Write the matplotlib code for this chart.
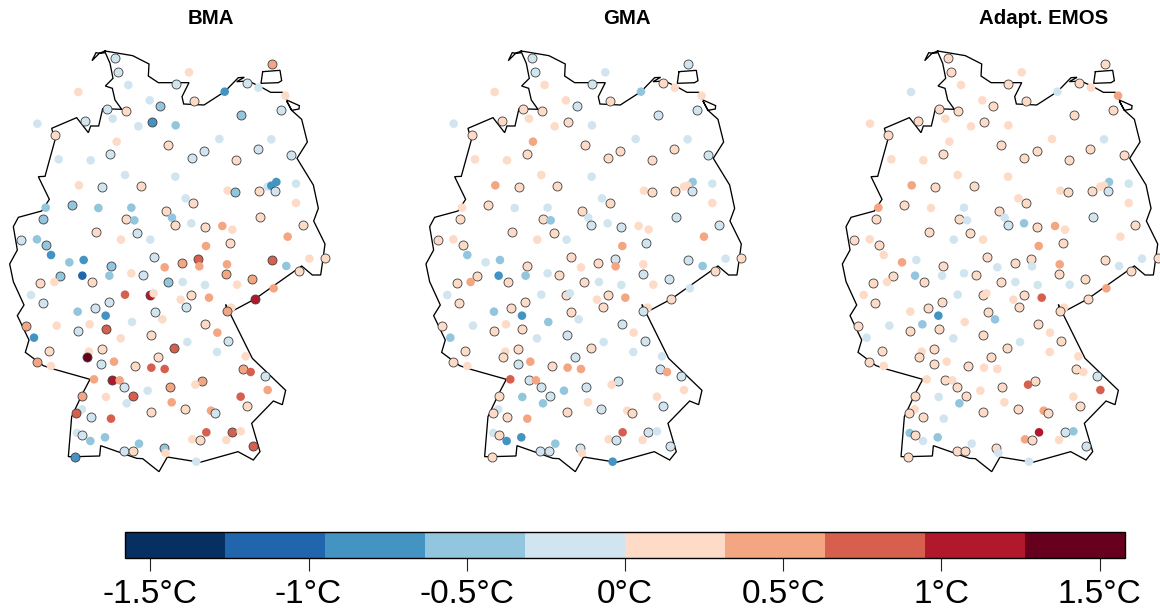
import matplotlib
matplotlib.use('Agg')
import matplotlib.pyplot as plt
from matplotlib.colors import ListedColormap, BoundaryNorm
from matplotlib.cm import ScalarMappable
import numpy as np

plt.rcParams['font.family'] = ['Liberation Sans', 'DejaVu Sans']

# Value of the class each station falls in (deg C)
B4, B3, B2, B1 = -1.11, -0.79, -0.47, -0.16
R1, R2, R3, R4, R5 = 0.16, 0.47, 0.79, 1.11, 1.42

# Station positions, in map units
station_x = [
    346, 355, 816, 567, 385, 235, 527, 740, 775, 674,
    856, 449, 481, 581, 320, 377, 842, 724, 338, 256,
    455, 112, 415, 527, 166, 658, 814, 350, 505, 612,
    773, 331, 575, 708, 874, 176, 272, 375, 526, 237,
    307, 423, 829, 803, 814, 826, 888, 683, 706, 777,
    888, 557, 580, 137, 215, 295, 394, 498, 516, 780,
    130, 379, 403, 525, 574, 614, 667, 697, 908, 288,
    412, 863, 64, 111, 139, 363, 451, 618, 690,
    153, 208, 251, 332, 463, 546, 595, 494, 598, 681,
    816, 859, 928, 975, 181, 247, 328, 394, 429, 679,
    757, 896, 121, 163, 275, 504, 548, 615, 711, 93,
    375, 450, 461, 574, 627, 542, 128, 327, 765, 821,
    559, 694, 681, 285, 233, 465, 317, 487, 77, 170,
    269, 396, 616, 233, 318, 652, 102, 362, 452, 685,
    562, 523, 147, 267, 305, 651, 260, 475, 737, 342,
    110, 304, 153, 406, 454, 494, 730, 752, 794, 282,
    337, 359, 606, 586, 373, 509, 803, 443, 400, 247,
    318, 722, 380, 515, 741, 246, 555, 452, 229, 633,
    646, 272, 333, 231, 247, 619, 696, 722, 315, 271,
    577, 599, 679, 417, 760, 491, 372, 398, 497, 226,
    589]
station_y = [
    53, 97, 72, 97, 135, 156, 131, 128, 143, 155,
    167, 181, 198, 184, 206, 213, 211, 225, 236, 244,
    246, 251, 259, 256, 286, 297, 298, 305, 315, 333,
    326, 342, 355, 361, 345, 358, 361, 405, 410, 436,
    442, 439, 426, 440, 437, 453, 431, 452, 456, 452,
    489, 475, 489, 503, 494, 504, 503, 514, 533, 530,
    537, 538, 541, 555, 550, 562, 558, 569, 555, 577,
    579, 590, 600, 598, 615, 599, 599, 618, 610,
    645, 667, 660, 677, 652, 669, 657, 682, 679, 673,
    661, 678, 656, 655, 708, 707, 707, 700, 706, 702,
    716, 692, 730, 726, 726, 727, 726, 735, 734, 765,
    764, 766, 760, 765, 773, 779, 788, 787, 777, 745,
    801, 803, 814, 805, 815, 815, 827, 838, 859, 857,
    853, 846, 853, 873, 868, 878, 893, 895, 886, 903,
    906, 925, 934, 935, 928, 936, 952, 950, 949, 965,
    967, 973, 978, 979, 983, 987, 986, 996, 1008, 1018,
    1019, 1021, 1022, 1034, 1042, 1042, 1050, 1052, 1068, 1069,
    1071, 1070, 1090, 1087, 1099, 1108, 1108, 1115, 1119, 1112,
    1120, 1130, 1136, 1179, 1185, 1177, 1176, 1174, 1192, 1203,
    1198, 1200, 1200, 1211, 1217, 1225, 1232, 1232, 1239, 1252,
    1265]

# 1 = station drawn with a dark outline
outlined = [
    1, 1, 1, 0, 0, 0, 1, 1, 0, 0,
    0, 0, 1, 1, 1, 1, 1, 1, 0, 1,
    1, 0, 0, 0, 1, 0, 0, 0, 1, 1,
    1, 1, 1, 1, 1, 0, 0, 0, 0, 0,
    1, 1, 0, 0, 0, 1, 0, 0, 1, 1,
    0, 0, 1, 0, 1, 0, 0, 1, 0, 1,
    1, 1, 0, 1, 0, 1, 0, 0, 1, 1,
    1, 0, 1, 0, 1, 0, 0, 0, 1,
    0, 0, 0, 1, 1, 1, 1, 0, 0, 0,
    1, 0, 0, 1, 1, 0, 0, 0, 1, 1,
    1, 1, 1, 0, 1, 1, 0, 0, 0, 0,
    0, 1, 0, 1, 0, 0, 1, 1, 1, 0,
    1, 0, 1, 1, 0, 1, 0, 0, 1, 0,
    0, 0, 1, 1, 1, 0, 0, 0, 1, 1,
    0, 1, 1, 0, 1, 0, 1, 1, 0, 0,
    1, 1, 0, 1, 0, 0, 1, 0, 1, 0,
    1, 0, 1, 0, 1, 1, 0, 0, 1, 1,
    0, 0, 0, 0, 1, 0, 1, 1, 1, 0,
    1, 1, 0, 0, 1, 0, 1, 0, 0, 0,
    0, 1, 0, 0, 1, 1, 1, 1, 0, 1,
    0]

bma_values = [
    B1, B1, R2, R1, B1, R1, B1, B1, B1, B3,
    R1, B1, B2, R1, B1, R1, B1, B2, B1, B1,
    B3, B1, B1, B2, R1, B1, B1, R1, R1, B1,
    B1, B1, B1, R1, B1, B1, B1, B1, B1, R1,
    B1, R1, B3, B1, B3, B1, B1, R1, B2, R1,
    R1, B1, R1, B2, B2, B2, B2, R1, B2, R1,
    B2, R1, B2, R1, B1, R1, R2, R1, R1, R1,
    B1, R2, B1, B2, B2, R1, B1, R2, R1,
    B3, B2, B3, B2, B1, R2, R3, R2, R2, R2,
    R3, B2, R1, R1, B2, B4, B2, R1, B1, R2,
    R2, R1, R1, R1, R1, B2, B1, B1, R1, B1,
    R3, R4, R1, R1, R2, R1, B1, B1, R4, R2,
    B1, R1, R2, B1, B2, B1, B3, R1, R2, R1,
    R1, B1, R1, B1, R3, R2, B3, R1, R1, B1,
    B1, R3, R1, R1, R1, B1, R5, R1, R1, R2,
    R2, B1, R1, R1, R3, R3, R2, R3, B1, R2,
    R4, R2, R2, R1, B1, R2, R2, B1, R3, R2,
    R1, R3, B1, R2, R1, B1, R1, R1, R3, R2,
    B1, B1, R3, B1, B1, R3, R3, R1, B2, B2,
    R1, R1, R1, B2, R3, B2, B1, R1, R1, B3,
    B1]
gma_values = [
    B1, B1, B1, B1, R1, R1, B1, R1, R1, B2,
    R1, R1, B1, R1, R1, R1, B1, B1, R1, R1,
    R1, B1, R1, B1, R1, B1, B1, R2, R1, R1,
    R1, R1, R1, R1, B1, R1, R1, R1, B1, R2,
    R1, R1, B2, R1, R1, B1, B1, R1, R1, R1,
    R1, B1, R1, R1, R1, B1, B1, R1, B1, B1,
    R1, R1, B2, B1, B1, B1, R1, R1, B1, R1,
    R1, R2, R1, R1, R1, R1, B1, R2, B1,
    B2, B1, B2, R1, R1, R1, B1, R1, R2, R1,
    B1, B2, B1, R1, R1, B3, B2, B1, R1, B1,
    B1, R1, R1, R2, R1, R1, B1, B1, R1, B1,
    B1, R1, B1, R1, R2, R1, R1, R1, R1, B1,
    R1, R1, B1, R1, B2, R1, B3, B1, R1, B1,
    R1, B2, B1, R1, R1, R1, B2, B1, B1, B1,
    B1, R1, R1, R1, R1, B1, R1, B1, B1, R2,
    R1, B1, R1, R1, R2, R2, B1, R2, B1, R3,
    B1, R2, B1, R1, B1, B1, R1, B2, B1, R1,
    B2, R1, B2, R1, B1, B1, B1, R1, R1, R1,
    R1, R1, R2, B1, R1, R3, B1, B1, B3, B3,
    R1, B1, R1, B2, B1, B1, B1, B1, R1, R1,
    B3]
emos_values = [
    R1, R1, R1, R1, R1, B1, R1, R1, R1, B1,
    R2, R1, R1, R1, R1, R1, R1, R1, R1, R1,
    R1, R1, R1, R1, R1, R1, B1, R1, R1, R1,
    R1, R1, R1, R1, R1, R1, R1, R1, R1, R2,
    R1, R1, B2, R1, R1, B1, B1, R1, R1, R1,
    R1, R1, R1, R2, R1, R1, B1, R1, B1, B1,
    R1, R1, B1, B1, B2, R1, R2, R1, R1, R1,
    R1, R1, R1, R1, R1, B1, R1, R2, R1,
    R1, R2, B1, R1, R1, R1, R1, B1, B1, R2,
    R1, B1, B1, R1, R1, B2, B1, B1, R1, R1,
    R1, R1, R1, R1, R1, R1, B1, B1, B1, R1,
    B1, R1, R1, R1, R3, R1, R1, R1, R1, R2,
    R1, R1, R1, R1, R1, R1, B3, B2, R1, B1,
    B2, R1, R1, R1, R1, R1, B1, B1, R1, R1,
    B1, R1, R1, R1, R1, R1, R1, R1, R1, R1,
    R1, R1, R1, R1, R1, R1, R1, R1, B1, R1,
    R1, R1, R1, R3, R1, R1, R3, R1, R1, R1,
    B1, R1, B2, R1, R1, R1, R1, R1, R1, R2,
    R1, R1, B1, B2, R1, R4, B1, B2, B2, B1,
    R2, R1, R1, B1, B1, R1, R1, R1, B1, R1,
    B1]

# German border, same map units
border_x = [315, 398, 447, 445, 475, 567, 546, 551, 612, 674, 715, 733, 710, 745, 785, 812,
            848, 860, 898, 897, 875, 860, 875, 905, 922, 891, 940, 955, 941, 975, 970,
            962, 937, 905, 765, 690, 677, 680, 690, 757, 857, 847, 820, 755, 780, 760, 714,
            600, 502, 477, 428, 410, 302, 299, 225, 205, 215, 229, 248, 270, 160, 130, 76,
            87, 52, 72, 40, 29, 52, 40, 55, 125, 148, 115, 135, 165, 155, 230, 265, 272,
            296, 308, 365, 345, 337, 316, 339, 330, 316, 300, 288, 276, 298, 315]
border_y = [33, 47, 72, 108, 128, 128, 170, 192, 195, 155, 113, 112, 125, 123, 142, 157,
            157, 180, 197, 207, 211, 183, 211, 238, 306, 355, 435, 505, 543, 612, 650,
            705, 705, 678, 777, 817, 793, 810, 820, 955, 1051, 1094, 1083, 1150, 1235, 1260, 1235,
            1267, 1251, 1295, 1256, 1255, 1217, 1248, 1250, 1250, 1130, 1100, 1060, 1018, 987, 977, 937,
            900, 827, 795, 725, 672, 630, 560, 532, 513, 478, 410, 409, 300, 265, 233, 278, 258,
            258, 206, 208, 180, 145, 138, 115, 70, 38, 40, 38, 62, 40, 33]
island_x = [788, 840, 845, 835, 783, 788]
island_y = [95, 91, 122, 128, 130, 95]

panel_titles = ['BMA', 'GMA', 'Adapt. EMOS']
panel_values = [bma_values, gma_values, emos_values]
panel_left = [0, 416.3, 832.7]

colors = ['#053061', '#2166ac', '#4393c3', '#92c5de', '#d1e5f0',
          '#fddbc7', '#f4a582', '#d6604d', '#b2182b', '#67001f']
bin_edges = np.linspace(-1.58, 1.58, 11)
cmap = ListedColormap(colors)
norm = BoundaryNorm(bin_edges, cmap.N)

W, H = 1160, 608
fig = plt.figure(figsize=(W / 100, H / 100), dpi=100, facecolor='white')

for title, values, left in zip(panel_titles, panel_values, panel_left):
    # axes span 40..490 px of the height, one map unit is a third of a pixel
    ax = fig.add_axes([left / W, (H - 490) / H, 327 / W, 450 / H])
    ax.set_xlim(0, 981)
    ax.set_ylim(1350, 0)
    ax.axis('off')
    ax.plot(border_x, border_y, color='black', lw=0.95, solid_joinstyle='miter', clip_on=False, zorder=1)
    ax.plot(island_x, island_y, color='black', lw=0.95, solid_joinstyle='miter', clip_on=False, zorder=1)
    # one scatter call per station keeps the overlaps in station order
    for x, y, v, o in zip(station_x, station_y, values, outlined):
        ax.scatter([x], [y], c=[v], cmap=cmap, norm=norm, s=42 if o else 38,
                   edgecolors='#404040' if o else 'none', linewidths=0.6,
                   clip_on=False, zorder=2)
    ax.text(633, -63, title, ha='center', va='center', fontsize=14.7, fontweight='bold')

cax = fig.add_axes([125 / W, (H - 558) / H, 1000 / W, 26 / H])
cbar = fig.colorbar(ScalarMappable(norm=norm, cmap=cmap), cax=cax, orientation='horizontal',
                    spacing='proportional', drawedges=False)
cbar.set_ticks([-1.5, -1, -0.5, 0, 0.5, 1, 1.5])
cbar.set_ticklabels(['-1.5°C', '-1°C', '-0.5°C', '0°C', '0.5°C', '1°C', '1.5°C'])
cbar.ax.minorticks_off()
cbar.ax.tick_params(length=9.5, width=0.8, color='#222222', labelsize=24, pad=5.5)
cbar.outline.set_edgecolor('black')
cbar.outline.set_linewidth(1.0)

plt.savefig('out.png', dpi=100, facecolor='white')
plt.close()
